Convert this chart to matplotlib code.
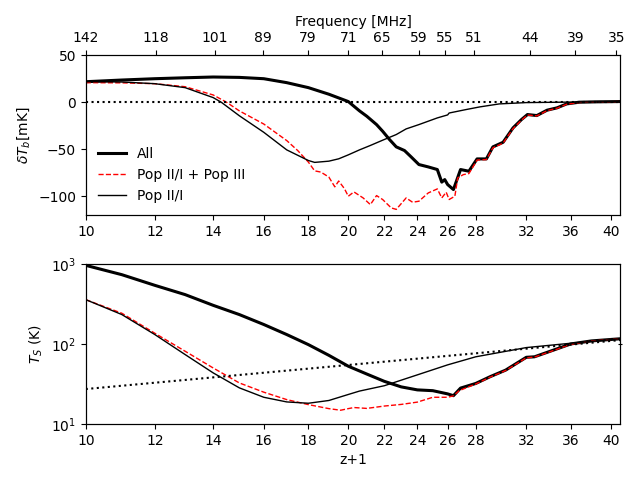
import numpy as np
import matplotlib
matplotlib.use('Agg')
import matplotlib.pyplot as plt
from matplotlib.ticker import NullLocator, FixedLocator, FixedFormatter

# --- x ticks (z+1) and top frequency ticks ---
zp1_ticks = [10, 12, 14, 16, 18, 20, 22, 24, 26, 28, 32, 36, 40]
freq_ticks = [142, 118, 101, 89, 79, 71, 65, 59, 55, 51, 44, 39, 35]

# --- delta T_b [mK], all-sources curve ---
z_all = [10.0, 11.0, 12.0, 13.0, 14.0, 15.0, 16.0, 17.0, 18.0, 19.0, 20.0, 20.6,
         21.0, 21.55, 21.9, 22.3, 22.7, 23.2, 23.6, 24.1, 24.7, 25.3, 25.6, 25.8,
         26.0, 26.4, 26.9, 27.5, 28.1, 28.8, 29.3, 30.1, 30.9, 31.6, 32.1, 32.9,
         33.8, 34.7, 35.6, 36.8, 38.5, 41.0]
dtb_all = [21.8, 23.6, 25.0, 26.0, 26.8, 26.4, 25.0, 20.8, 15.5, 8.5, 0.7, -9.2,
           -14.9, -23.8, -30.9, -39.7, -47.5, -51.4, -58.0, -66.3, -68.8, -71.6, -85.0, -82.3,
           -87.6, -92.9, -71.6, -73.4, -60.3, -60.3, -47.5, -42.6, -27.3, -18.4, -13.1, -14.2,
           -8.5, -6.0, -1.8, 0.0, 0.4, 0.7]

# --- Pop II/I + Pop III ---
z_p3 = [10.0, 11.0, 12.0, 13.0, 14.0, 14.5, 15.0, 16.0, 17.0, 17.5, 18.0, 18.3,
        18.6, 19.0, 19.3, 19.5, 19.8, 20.0, 20.3, 20.8, 21.2, 21.55, 21.9, 22.4,
        22.7, 22.95, 23.3, 23.7, 24.1, 24.7, 25.3, 25.6, 25.9, 26.1, 26.5, 26.7,
        27.1, 27.5, 28.1, 28.8, 29.3, 30.1, 30.9, 31.6, 32.1, 32.9, 33.8, 34.7,
        35.6, 36.8, 38.5, 41.0]
dtb_p3 = [20.8, 20.6, 19.7, 16.5, 7.7, 0.0, -9.2, -23.2, -40.8, -51.4, -63.7, -73.0,
          -74.3, -79.6, -90.0, -83.8, -92.0, -100.0, -95.4, -101.8, -108.9, -99.3, -103.5, -112.4,
          -114.0, -108.9, -101.8, -106.4, -105.3, -96.5, -92.2, -101.8, -95.7, -103.5, -100.0, -80.5,
          -77.0, -75.9, -61.5, -61.0, -48.5, -43.5, -28.0, -19.0, -13.6, -14.6, -9.0, -6.4,
          -2.2, -0.3, 0.3, 0.7]

# --- Pop II/I only ---
z_p2 = [10.0, 11.0, 12.0, 13.0, 14.0, 14.3, 15.0, 16.0, 17.0, 18.0, 18.3, 19.0,
        19.5, 20.0, 20.6, 21.2, 21.9, 22.7, 23.3, 24.1, 25.3, 26.0, 26.1, 27.3,
        28.3, 29.8, 32.0, 35.0, 38.0, 41.0]
dtb_p2 = [21.8, 21.5, 19.7, 15.5, 4.9, 0.0, -14.4, -32.0, -50.7, -62.0, -64.0, -62.7,
          -60.2, -56.0, -50.7, -46.0, -40.4, -34.4, -28.4, -23.8, -16.7, -13.5, -11.5, -7.8,
          -5.0, -1.8, -0.4, 0.0, 0.3, 0.7]

# --- spin temperature T_S [K] ---
ts_z_all = [10.0, 11.0, 12.0, 13.0, 14.0, 15.0, 16.0, 17.0, 18.0, 19.0, 20.0, 21.0,
            22.0, 23.0, 24.0, 25.0, 26.0, 26.4, 26.9, 28.0, 29.1, 30.3, 32.0, 32.7,
            34.2, 36.0, 38.0, 41.0]
ts_all = [962, 735, 541, 414, 304, 233, 175, 131, 98, 72, 52.6, 42,
          34, 29, 26.6, 26.0, 23.7, 22.5, 28.0, 32.0, 39.0, 47.0, 68.0, 69.0,
          82.0, 100.0, 109.0, 116.0]

ts_z_p3 = [10.0, 11.0, 12.0, 13.0, 14.0, 15.0, 16.0, 17.0, 18.0, 19.0, 19.6, 20.0,
           20.3, 21.0, 22.0, 23.0, 24.0, 25.0, 26.0, 26.4, 26.8, 28.0, 29.1, 30.3,
           32.0, 32.7, 34.2, 36.0, 38.0, 41.0]
ts_p3 = [358, 242, 136, 81, 50, 32.5, 24.9, 20.1, 17.4, 15.5, 14.8, 15.5,
         16.0, 15.6, 16.7, 17.5, 18.7, 21.5, 21.5, 22.4, 26.0, 31.5, 38.5, 46.5,
         67.0, 68.5, 81.0, 99.0, 108.5, 116.0]

ts_z_p2 = [10.0, 11.0, 12.0, 13.0, 14.0, 15.0, 16.0, 17.0, 18.0, 19.0, 20.0, 20.6,
           22.0, 24.0, 26.0, 28.0, 32.0, 36.0, 41.0]
ts_p2 = [358, 233, 131, 73.6, 43.4, 28.2, 21.5, 18.8, 18.1, 19.6, 23.3, 25.7,
         30.0, 41.0, 54.7, 69.0, 90.0, 102.0, 116.0]

# CMB temperature reference
tcmb_z = [10.0, 20.0, 41.0]
tcmb = [27.25, 54.5, 111.7]

fig = plt.figure(figsize=(6.4, 4.8), dpi=100)
ax1 = fig.add_axes([0.134, 0.552, 0.835, 0.333])
ax2 = fig.add_axes([0.134, 0.117, 0.835, 0.333])

# top panel
ax1.plot(z_all, dtb_all, color='black', lw=2.2, label='All')
ax1.plot(z_p3, dtb_p3, color='red', lw=1, ls='--', label='Pop II/I + Pop III')
ax1.plot(z_p2, dtb_p2, color='black', lw=1, label='Pop II/I')
ax1.axhline(0, color='black', ls=':', lw=1.5)
ax1.set_xscale('log')
ax1.set_xlim(10, 41)
ax1.set_ylim(-120, 50)
ax1.set_yticks([-100, -50, 0, 50])
ax1.set_ylabel(r'$\delta T_b$[mK]')
ax1.legend(loc='lower left', frameon=False, bbox_to_anchor=(0.0, 0.0))

top = ax1.twiny()
top.set_xscale('log')
top.set_xlim(10, 41)
top.xaxis.set_major_locator(FixedLocator([1420.4 / f for f in freq_ticks]))
top.xaxis.set_major_formatter(FixedFormatter([str(f) for f in freq_ticks]))
top.xaxis.set_minor_locator(NullLocator())
top.set_xlabel('Frequency [MHz]')

# bottom panel
ax2.plot(ts_z_all, ts_all, color='black', lw=2.2)
ax2.plot(ts_z_p3, ts_p3, color='red', lw=1, ls='--')
ax2.plot(ts_z_p2, ts_p2, color='black', lw=1)
ax2.plot(tcmb_z, tcmb, color='black', ls=':', lw=1.5)
ax2.set_xscale('log')
ax2.set_yscale('log')
ax2.set_xlim(10, 41)
ax2.set_ylim(10, 1000)
ax2.yaxis.set_minor_locator(NullLocator())
ax2.set_ylabel(r'$T_S$ (K)')
ax2.set_xlabel('z+1')

right = ax2.twinx()
right.set_yscale('log')
right.set_ylim(10, 1000)
right.set_yticks([100])
right.yaxis.set_minor_locator(NullLocator())
right.tick_params(axis='y', direction='inout', labelright=False)

for ax in (ax1, ax2):
    ax.xaxis.set_major_locator(FixedLocator(zp1_ticks))
    ax.xaxis.set_major_formatter(FixedFormatter([str(t) for t in zp1_ticks]))
    ax.xaxis.set_minor_locator(NullLocator())

plt.savefig('out.png', dpi=100)
plt.close()
